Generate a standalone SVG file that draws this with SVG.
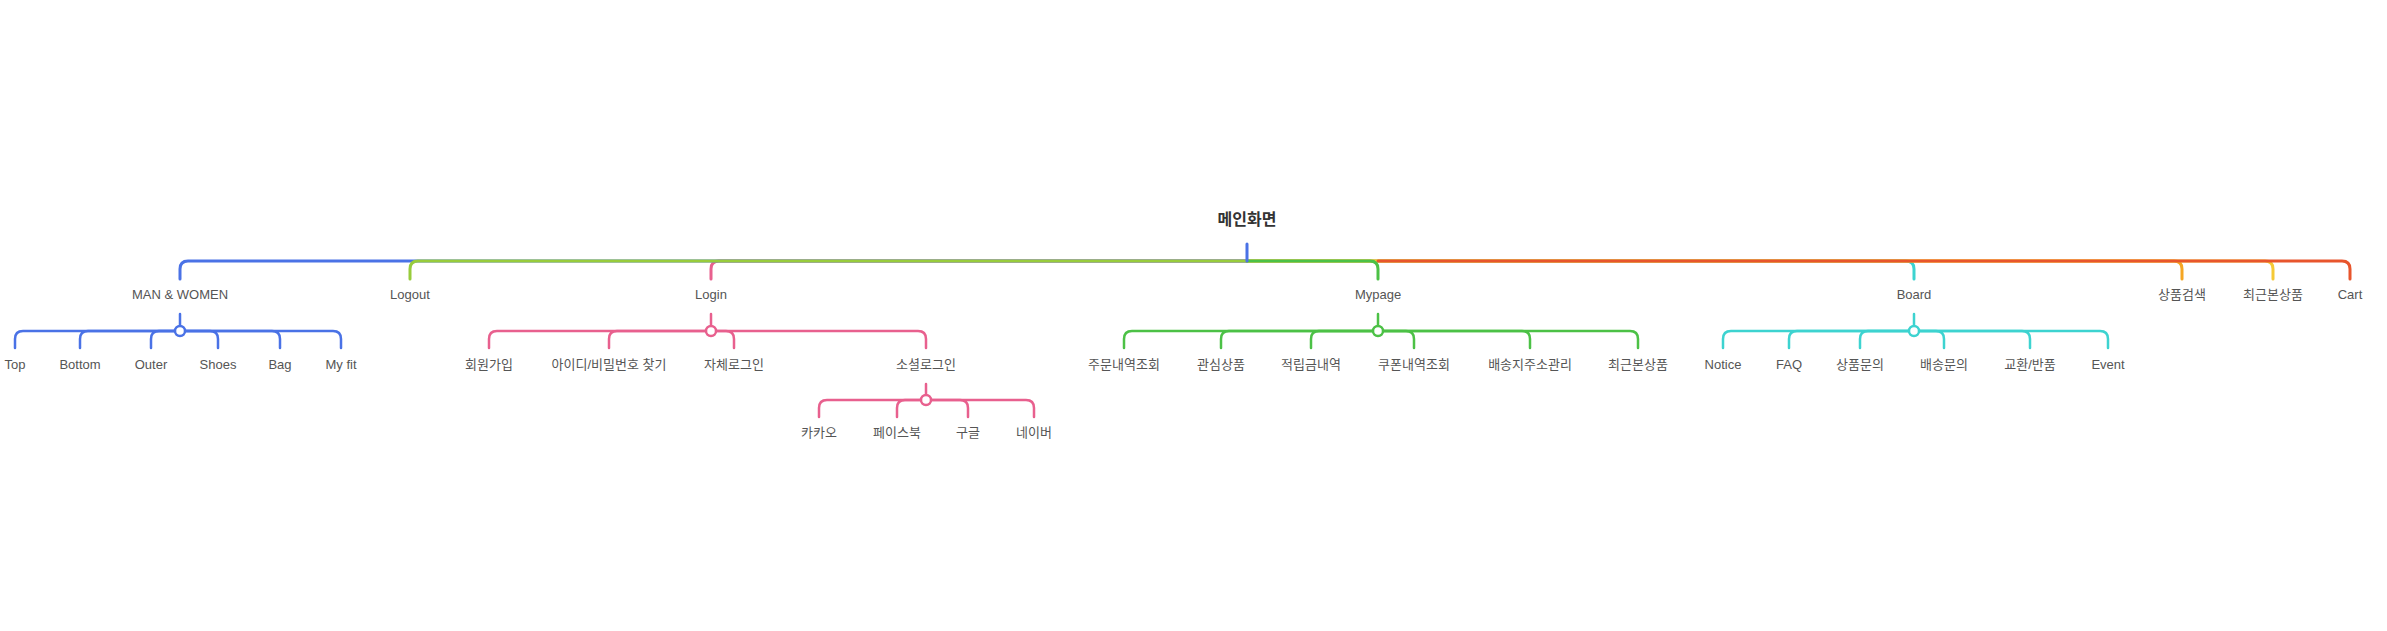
<svg xmlns="http://www.w3.org/2000/svg" width="2387" height="631" viewBox="0 0 2387 631">
<style>
.ln{fill:none;stroke-linecap:round;stroke-linejoin:round;stroke-width:2.5}
.main{stroke-width:3}
.blue{stroke:#4a72e6}
.lime{stroke:#98cc3c}
.pink{stroke:#e8608e}
.green{stroke:#4cc146}
.teal{stroke:#3dd3d0}
.orange{stroke:#f5a623}
.yellow{stroke:#f5c936}
.red{stroke:#e8552c}
.dot{fill:#fff;stroke-width:2.5}
text{font-family:"Liberation Sans","Noto Sans CJK KR",sans-serif;font-size:13px;fill:#555;text-anchor:middle}
.root{font-size:16px;font-weight:bold;fill:#333}
</style>
<rect width="2387" height="631" fill="#fff"/>
<g id="connectors">
  <path class="ln main pink" d="M1247,261 H719 Q711,261 711,269 V279"/>
  <path class="ln main blue" d="M1247,261 H188 Q180,261 180,269 V279"/>
  <path class="ln main lime" d="M1247,261 H418 Q410,261 410,269 V279"/>
  <path class="ln main teal" d="M1247,261 H1906 Q1914,261 1914,269 V279"/>
  <path class="ln main orange" d="M1247,261 H2174 Q2182,261 2182,269 V279"/>
  <path class="ln main yellow" d="M1247,261 H2265 Q2273,261 2273,269 V279"/>
  <path class="ln main red" d="M1378,261 H2342 Q2350,261 2350,269 V279"/>
  <path class="ln main green" d="M1247,261 H1370 Q1378,261 1378,269 V279"/>
  <path class="ln main blue" d="M1247,244 V261"/>
  <g class="ln blue">
    <path d="M180,314 V326"/>
    <path d="M180,331 H23 Q15,331 15,339 V348"/>
    <path d="M180,331 H88 Q80,331 80,339 V348"/>
    <path d="M180,331 H159 Q151,331 151,339 V348"/>
    <path d="M180,331 H210 Q218,331 218,339 V348"/>
    <path d="M180,331 H272 Q280,331 280,339 V348"/>
    <path d="M180,331 H333 Q341,331 341,339 V348"/>
    <circle class="dot blue" cx="180" cy="331" r="5"/>
  </g>
  <g class="ln pink">
    <path d="M711,314 V326"/>
    <path d="M711,331 H497 Q489,331 489,339 V348"/>
    <path d="M711,331 H617 Q609,331 609,339 V348"/>
    <path d="M711,331 H726 Q734,331 734,339 V348"/>
    <path d="M711,331 H918 Q926,331 926,339 V348"/>
    <circle class="dot pink" cx="711" cy="331" r="5"/>
  </g>
  <g class="ln pink">
    <path d="M926,384 V395"/>
    <path d="M926,400 H827 Q819,400 819,408 V417"/>
    <path d="M926,400 H905 Q897,400 897,408 V417"/>
    <path d="M926,400 H960 Q968,400 968,408 V417"/>
    <path d="M926,400 H1026 Q1034,400 1034,408 V417"/>
    <circle class="dot pink" cx="926" cy="400" r="5"/>
  </g>
  <g class="ln green">
    <path d="M1378,314 V326"/>
    <path d="M1378,331 H1132 Q1124,331 1124,339 V348"/>
    <path d="M1378,331 H1229 Q1221,331 1221,339 V348"/>
    <path d="M1378,331 H1319 Q1311,331 1311,339 V348"/>
    <path d="M1378,331 H1406 Q1414,331 1414,339 V348"/>
    <path d="M1378,331 H1522 Q1530,331 1530,339 V348"/>
    <path d="M1378,331 H1630 Q1638,331 1638,339 V348"/>
    <circle class="dot green" cx="1378" cy="331" r="5"/>
  </g>
  <g class="ln teal">
    <path d="M1914,314 V326"/>
    <path d="M1914,331 H1731 Q1723,331 1723,339 V348"/>
    <path d="M1914,331 H1797 Q1789,331 1789,339 V348"/>
    <path d="M1914,331 H1868 Q1860,331 1860,339 V348"/>
    <path d="M1914,331 H1936 Q1944,331 1944,339 V348"/>
    <path d="M1914,331 H2022 Q2030,331 2030,339 V348"/>
    <path d="M1914,331 H2100 Q2108,331 2108,339 V348"/>
    <circle class="dot teal" cx="1914" cy="331" r="5"/>
  </g>
</g>
<g id="root"><text class="root" x="1247" y="225">메인화면</text></g>
<g id="man-women"><text x="180" y="298.5">MAN &amp; WOMEN</text></g>
<g id="logout"><text x="410" y="298.5">Logout</text></g>
<g id="login"><text x="711" y="298.5">Login</text></g>
<g id="mypage"><text x="1378" y="298.5">Mypage</text></g>
<g id="board"><text x="1914" y="298.5">Board</text></g>
<g id="search"><text x="2182" y="298.5">상품검색</text></g>
<g id="recent"><text x="2273" y="298.5">최근본상품</text></g>
<g id="cart"><text x="2350" y="298.5">Cart</text></g>
<g id="top"><text x="15" y="368.5">Top</text></g>
<g id="bottom"><text x="80" y="368.5">Bottom</text></g>
<g id="outer"><text x="151" y="368.5">Outer</text></g>
<g id="shoes"><text x="218" y="368.5">Shoes</text></g>
<g id="bag"><text x="280" y="368.5">Bag</text></g>
<g id="myfit"><text x="341" y="368.5">My fit</text></g>
<g id="join"><text x="489" y="368.5">회원가입</text></g>
<g id="find"><text x="609" y="368.5">아이디/비밀번호 찾기</text></g>
<g id="selflogin"><text x="734" y="368.5">자체로그인</text></g>
<g id="social"><text x="926" y="368.5">소셜로그인</text></g>
<g id="kakao"><text x="819" y="436.5">카카오</text></g>
<g id="facebook"><text x="897" y="436.5">페이스북</text></g>
<g id="google"><text x="968" y="436.5">구글</text></g>
<g id="naver"><text x="1034" y="436.5">네이버</text></g>
<g id="orders"><text x="1124" y="368.5">주문내역조회</text></g>
<g id="wish"><text x="1221" y="368.5">관심상품</text></g>
<g id="points"><text x="1311" y="368.5">적립금내역</text></g>
<g id="coupons"><text x="1414" y="368.5">쿠폰내역조회</text></g>
<g id="address"><text x="1530" y="368.5">배송지주소관리</text></g>
<g id="recent2"><text x="1638" y="368.5">최근본상품</text></g>
<g id="notice"><text x="1723" y="368.5">Notice</text></g>
<g id="faq"><text x="1789" y="368.5">FAQ</text></g>
<g id="qna-product"><text x="1860" y="368.5">상품문의</text></g>
<g id="qna-delivery"><text x="1944" y="368.5">배송문의</text></g>
<g id="exchange"><text x="2030" y="368.5">교환/반품</text></g>
<g id="event"><text x="2108" y="368.5">Event</text></g>
</svg>
